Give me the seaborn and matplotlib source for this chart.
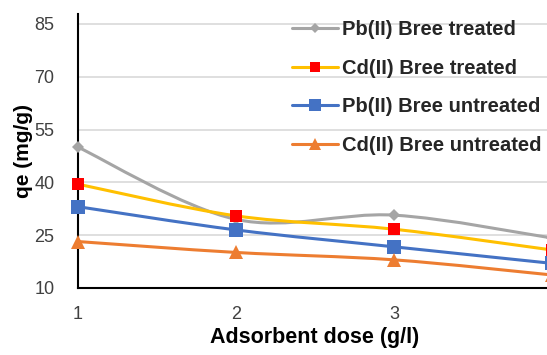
import numpy as np
import pandas as pd
import matplotlib
matplotlib.use("Agg")
import matplotlib.pyplot as plt
import seaborn as sns
from matplotlib.path import Path
from matplotlib.patches import PathPatch
from matplotlib.lines import Line2D

# ---- data ----
dose = [1, 2, 3, 4]
pb_treated = [50.0, 29.5, 30.7, 24.2]
cd_treated = [39.5, 30.5, 26.7, 20.8]
pb_untreated = [33.1, 26.5, 21.7, 17.0]
cd_untreated = [23.2, 20.1, 18.0, 13.7]
series_names = ["Pb(II) Bree treated", "Cd(II) Bree treated",
                "Pb(II) Bree untreated", "Cd(II) Bree untreated"]
y_ticks = [10, 25, 40, 55, 70, 85]
x_ticks = [1, 2, 3, 4]

series = [pb_treated, cd_treated, pb_untreated, cd_untreated]
df = pd.DataFrame({
    "dose": dose * 4,
    "qe": pb_treated + cd_treated + pb_untreated + cd_untreated,
    "series": sum([[n] * len(dose) for n in series_names], []),
})

line_colors = ["#A5A5A5", "#FFC000", "#4472C4", "#ED7D31"]
marker_colors = ["#A5A5A5", "#FF0000", "#4472C4", "#ED7D31"]
markers = ["D", "s", "s", "^"]
msizes = [6.5, 8.5, 10, 10]

sns.set_style("white")
plt.rcParams["font.family"] = ["Liberation Sans", "DejaVu Sans"]

fig = plt.figure(figsize=(5.47, 3.55), dpi=100)
ax = fig.add_axes([78 / 547, 67 / 355, (552 - 78) / 547, (288 - 14) / 355])
ax.set_xlim(1, 4)
ax.set_ylim(10, 85 + 10 / 3.52)


def smooth_path(xs, ys):
    pts = np.column_stack([xs, ys]).astype(float)
    n = len(pts)
    verts = [pts[0]]
    codes = [Path.MOVETO]
    for i in range(n - 1):
        p0 = pts[i - 1] if i > 0 else pts[i]
        p1 = pts[i]
        p2 = pts[i + 1]
        p3 = pts[i + 2] if i + 2 < n else pts[i + 1]
        c1 = p1 + (p2 - p0) / 6.0
        c2 = p2 - (p3 - p1) / 6.0
        verts += [c1, c2, p2]
        codes += [Path.CURVE4] * 3
    return Path(verts, codes)


for name, vals, lc in zip(series_names, series, line_colors):
    patch = PathPatch(smooth_path(dose, vals), facecolor="none",
                      edgecolor=lc, lw=2.2, transform=ax.transData,
                      clip_on=True, zorder=2, capstyle="round")
    ax.add_patch(patch)

for name, mc, mk, ms in zip(series_names, marker_colors, markers, msizes):
    sub = df[df["series"] == name]
    sns.lineplot(data=sub, x="dose", y="qe", ax=ax, lw=0, marker=mk,
                 markersize=ms, color=mc, markeredgecolor=mc,
                 markeredgewidth=0, zorder=3, clip_on=False, legend=False)

ax.set_yticks(y_ticks)
ax.set_xticks(x_ticks)
ax.set_xticklabels([str(v) for v in x_ticks])
ax.yaxis.grid(True, color="#D9D9D9", lw=1.2)
ax.xaxis.grid(False)
for s in ["top", "right"]:
    ax.spines[s].set_visible(False)
for s in ["left", "bottom"]:
    ax.spines[s].set_color("black")
    ax.spines[s].set_linewidth(1.5)
ax.tick_params(axis="both", length=0, labelsize=13, colors="#404040")
ax.tick_params(axis="x", pad=13)
ax.tick_params(axis="y", pad=17)
ax.set_xlabel("Adsorbent dose (g/l)", fontsize=15.5, fontweight="bold",
              color="black", labelpad=3)
ax.set_ylabel("qe (mg/g)", fontsize=15, fontweight="bold", color="black",
              labelpad=1)

handles = [Line2D([0], [0], color=lc, lw=2.2, marker=mk, markersize=ms * 0.85,
                  markerfacecolor=mc, markeredgecolor=mc, markeredgewidth=0)
           for lc, mc, mk, ms in zip(line_colors, marker_colors, markers, msizes)]
leg = fig.legend(handles, series_names, loc="upper left",
                 bbox_to_anchor=(292 / 547, 1 - 20 / 355), frameon=False,
                 prop={"weight": "bold", "size": 14.5}, handlelength=2.3,
                 handletextpad=0.2, labelspacing=0.98, borderaxespad=0,
                 borderpad=0)

fig.savefig("out.png", dpi=100)
